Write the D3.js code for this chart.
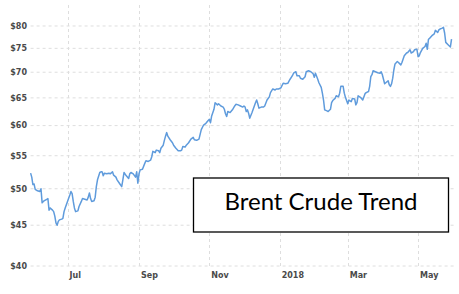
<!DOCTYPE html>
<html lang="en">
<head>
  <meta charset="UTF-8">
  <title>Brent Crude Trend</title>
  <style>
    body {
      margin: 0;
      background: #fff;
    }
    .tick-label {
      font-family: "DejaVu Sans", Verdana, sans-serif;
      font-size: 8px;
      font-weight: bold;
      fill: #4a4a4a;
    }
  </style>
</head>
<body>
  <div id="chart"></div>

  <script src="https://d3js.org/d3.v7.min.js"></script>
  <script>
    // Brent crude daily close
    const dates = [
      "2017-05-30","2017-05-31","2017-06-01","2017-06-02","2017-06-03","2017-06-05","2017-06-07","2017-06-08","2017-06-09","2017-06-10",
      "2017-06-11","2017-06-13","2017-06-14","2017-06-15","2017-06-16","2017-06-18","2017-06-19","2017-06-20","2017-06-21","2017-06-22",
      "2017-06-23","2017-06-24","2017-06-26","2017-06-27","2017-06-28","2017-06-29","2017-07-01","2017-07-03","2017-07-04","2017-07-05",
      "2017-07-06","2017-07-07","2017-07-08","2017-07-10","2017-07-11","2017-07-13","2017-07-14","2017-07-16","2017-07-18","2017-07-19",
      "2017-07-20","2017-07-21","2017-07-22","2017-07-24","2017-07-25","2017-07-26","2017-07-27","2017-07-29","2017-07-30","2017-07-31",
      "2017-08-01","2017-08-02","2017-08-04","2017-08-06","2017-08-07","2017-08-09","2017-08-10","2017-08-12","2017-08-13","2017-08-15",
      "2017-08-17","2017-08-18","2017-08-19","2017-08-21","2017-08-23","2017-08-24","2017-08-25","2017-08-27","2017-08-29","2017-08-30",
      "2017-08-31","2017-09-01","2017-09-02","2017-09-04","2017-09-06","2017-09-07","2017-09-09","2017-09-11","2017-09-12","2017-09-13",
      "2017-09-15","2017-09-16","2017-09-18","2017-09-19","2017-09-20","2017-09-22","2017-09-23","2017-09-24","2017-09-25","2017-09-26",
      "2017-09-28","2017-09-30","2017-10-01","2017-10-03","2017-10-05","2017-10-07","2017-10-08","2017-10-09","2017-10-11","2017-10-12",
      "2017-10-14","2017-10-16","2017-10-18","2017-10-19","2017-10-21","2017-10-23","2017-10-25","2017-10-27","2017-10-29","2017-10-31",
      "2017-11-01","2017-11-02","2017-11-03","2017-11-05","2017-11-06","2017-11-08","2017-11-09","2017-11-11","2017-11-13","2017-11-14",
      "2017-11-15","2017-11-16","2017-11-17","2017-11-19","2017-11-21","2017-11-23","2017-11-24","2017-11-26","2017-11-28","2017-11-30",
      "2017-12-01","2017-12-02","2017-12-03","2017-12-04","2017-12-05","2017-12-06","2017-12-08","2017-12-10","2017-12-11","2017-12-12",
      "2017-12-13","2017-12-14","2017-12-16","2017-12-18","2017-12-19","2017-12-21","2017-12-23","2017-12-24","2017-12-26","2017-12-28",
      "2017-12-29","2017-12-31","2018-01-02","2018-01-04","2018-01-06","2018-01-08","2018-01-10","2018-01-12","2018-01-13","2018-01-15",
      "2018-01-16","2018-01-18","2018-01-19","2018-01-21","2018-01-23","2018-01-24","2018-01-26","2018-01-28","2018-01-30","2018-01-31",
      "2018-02-01","2018-02-03","2018-02-04","2018-02-06","2018-02-07","2018-02-08","2018-02-09","2018-02-11","2018-02-12","2018-02-14",
      "2018-02-15","2018-02-16","2018-02-18","2018-02-19","2018-02-21","2018-02-22","2018-02-23","2018-02-25","2018-02-26","2018-02-27",
      "2018-03-01","2018-03-02","2018-03-04","2018-03-05","2018-03-07","2018-03-08","2018-03-09","2018-03-10","2018-03-12","2018-03-14",
      "2018-03-16","2018-03-17","2018-03-19","2018-03-20","2018-03-21","2018-03-22","2018-03-23","2018-03-25","2018-03-27","2018-03-29",
      "2018-03-30","2018-03-31","2018-04-01","2018-04-02","2018-04-03","2018-04-05","2018-04-06","2018-04-07","2018-04-08","2018-04-09",
      "2018-04-10","2018-04-11","2018-04-13","2018-04-14","2018-04-16","2018-04-17","2018-04-19","2018-04-21","2018-04-22","2018-04-24",
      "2018-04-25","2018-04-27","2018-04-28","2018-04-30","2018-05-01","2018-05-02","2018-05-03","2018-05-05","2018-05-07","2018-05-08",
      "2018-05-09","2018-05-10","2018-05-11","2018-05-13","2018-05-15","2018-05-16","2018-05-18","2018-05-19","2018-05-20","2018-05-22",
      "2018-05-23","2018-05-24","2018-05-25","2018-05-27","2018-05-29","2018-05-30"
    ];

    const prices = [
      52.3,51.7,50.6,50.7,49.9,49.7,49.6,50.0,48.0,48.2,
      48.3,48.5,48.6,47.0,47.3,47.0,46.8,46.2,45.3,45.0,
      45.5,45.7,45.8,45.9,46.8,47.3,48.2,49.1,49.6,49.3,
      48.2,47.3,46.8,46.9,47.5,48.2,48.6,48.5,48.4,48.8,
      49.4,48.6,48.2,48.3,48.8,50.3,51.3,52.4,52.5,52.5,
      51.9,52.3,52.2,52.3,52.2,52.5,52.0,51.7,51.3,50.8,
      50.3,51.3,52.4,51.9,51.5,52.2,52.4,52.2,51.7,52.5,
      50.8,52.2,52.8,52.9,53.8,54.2,54.1,54.3,54.8,55.7,
      55.5,55.9,55.8,55.5,56.2,56.7,57.5,58.2,58.8,58.2,
      57.6,57.1,56.7,56.2,55.8,55.8,55.9,56.5,56.4,56.7,
      57.1,57.7,58.0,57.6,57.5,57.7,59.3,60.1,60.4,60.9,
      61.1,60.5,61.7,62.9,64.1,63.7,63.9,63.5,63.3,62.9,
      62.1,61.6,62.5,62.3,62.8,63.5,63.8,63.7,63.5,63.3,
      63.5,63.3,62.5,62.8,62.2,61.3,62.3,63.5,64.1,64.6,
      63.9,63.1,63.3,63.3,63.5,64.6,65.2,66.0,66.7,66.5,
      66.7,66.7,66.9,67.8,67.7,67.8,68.6,69.3,69.8,70.1,
      69.3,69.3,68.8,68.6,69.1,70.1,70.3,70.1,69.7,69.0,
      69.8,68.6,67.9,67.0,65.9,64.6,62.8,62.6,62.5,62.9,
      64.1,64.5,64.9,65.4,65.2,65.9,67.2,67.2,65.9,65.1,
      63.9,64.6,64.3,64.9,64.8,63.7,64.1,65.4,65.1,64.6,
      65.8,66.0,66.2,67.2,69.1,69.5,70.3,70.1,69.9,69.8,
      70.1,69.5,68.6,67.7,67.9,68.3,67.5,67.2,67.7,68.8,
      70.5,71.7,72.2,72.0,71.5,72.0,73.4,74.0,74.1,74.7,
      74.0,74.3,74.7,74.8,73.2,73.4,74.1,75.0,75.4,76.1,
      74.8,77.0,77.2,77.8,78.2,79.0,78.5,79.1,79.3,79.5,
      79.7,78.4,76.3,75.8,75.3,77.0
    ];

    const yTicks = [40, 45, 50, 55, 60, 65, 70, 75, 80];
    const xTickDates = ["2017-07-01", "2017-09-01", "2017-11-01", "2018-01-01", "2018-03-01", "2018-05-01"];
    const xTickLabels = ["Jul", "Sep", "Nov", "2018", "Mar", "May"];
    const legendText = "Brent Crude Trend";

    const width = 459;
    const height = 294;
    const parse = d3.timeParse("%Y-%m-%d");

    const data = dates.map((d, i) => ({ date: parse(d), price: prices[i] }));

    const svg = d3.select("#chart").append("svg")
      .attr("width", width)
      .attr("height", height);

    // Scales: time on x, log price on y
    const x = d3.scaleTime()
      .domain([parse("2017-05-30"), parse("2018-06-02")])
      .range([30.6, 455]);

    const y = d3.scaleLog()
      .domain([40, 85])
      .range([266, 5]);

    // Horizontal grid + y labels
    const yAxis = svg.append("g");
    yAxis.selectAll("line")
      .data(yTicks)
      .enter()
      .append("line")
      .attr("x1", x.range()[0])
      .attr("x2", x.range()[1])
      .attr("y1", d => y(d))
      .attr("y2", d => y(d))
      .attr("stroke", "#dedede")
      .attr("stroke-dasharray", "3,3");

    yAxis.selectAll("text")
      .data(yTicks)
      .enter()
      .append("text")
      .attr("class", "tick-label")
      .attr("x", 27)
      .attr("y", d => y(d))
      .attr("dy", "0.35em")
      .attr("text-anchor", "end")
      .text(d => "$" + d);

    // Vertical grid + x labels
    const xAxis = svg.append("g");
    xAxis.selectAll("line")
      .data(xTickDates)
      .enter()
      .append("line")
      .attr("x1", d => Math.round(x(parse(d))) + 0.5)
      .attr("x2", d => Math.round(x(parse(d))) + 0.5)
      .attr("y1", 5)
      .attr("y2", 268)
      .attr("stroke", "#dedede")
      .attr("stroke-dasharray", "3,3");

    xAxis.selectAll("text")
      .data(xTickDates)
      .enter()
      .append("text")
      .attr("class", "tick-label")
      .attr("x", d => x(parse(d)) + 2)
      .attr("y", 278)
      .attr("fill", (d, i) => xTickLabels[i] === "2018" ? "#222" : null)
      .text((d, i) => xTickLabels[i]);

    // Price line
    const line = d3.line()
      .x(d => x(d.date))
      .y(d => y(d.price));

    svg.append("path")
      .datum(data)
      .attr("d", line)
      .attr("fill", "none")
      .attr("stroke", "#5f9bdc")
      .attr("stroke-width", 1.5)
      .attr("stroke-linejoin", "round");

    // Title box
    const box = svg.append("g");
    box.append("rect")
      .attr("x", 193.5)
      .attr("y", 178)
      .attr("width", 255)
      .attr("height", 54)
      .attr("fill", "#fff")
      .attr("stroke", "#000")
      .attr("stroke-width", 1.3);

    box.append("text")
      .attr("x", 321)
      .attr("y", 210)
      .attr("text-anchor", "middle")
      .attr("font-family", "Lato, 'Open Sans', sans-serif")
      .attr("font-size", 24)
      .attr("fill", "#000")
      .text(legendText);
  </script>
</body>
</html>
